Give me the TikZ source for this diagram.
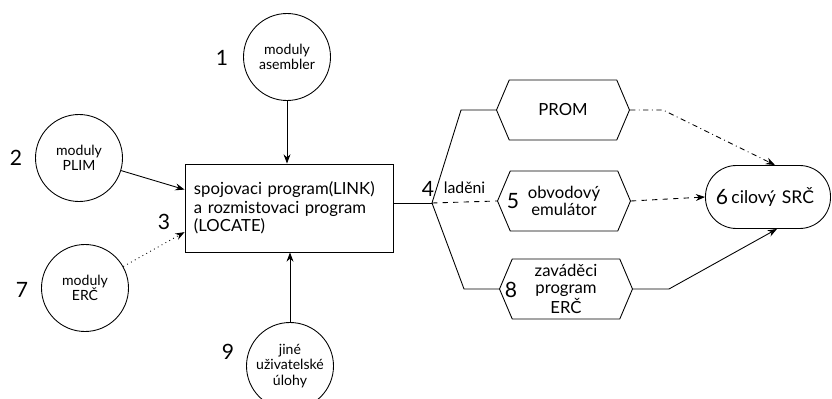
\documentclass[tikz,border=0pt]{standalone}
\usepackage{fontspec}
\setmainfont{Lato}
\usetikzlibrary{shapes.symbols,arrows.meta}

\tikzset{
  modcirc/.style={draw,circle,minimum size=17.4mm,inner sep=0pt,align=center,
    font=\fontsize{8}{8.8}\selectfont},
  linkbox/.style={draw,rectangle,minimum width=41.6mm,minimum height=17.6mm,
    text width=38mm,align=left,font=\fontsize{9.5}{10.5}\selectfont},
  hexbox/.style={draw,signal,signal to=west and east,signal pointer angle=134,
    minimum width=26.6mm,minimum height=12mm,inner sep=1pt,align=center,
    font=\fontsize{9.5}{9.8}\selectfont},
  goalbox/.style={draw,rectangle,rounded corners=6.2mm,minimum width=25mm,
    minimum height=12.6mm,text width=18.4mm,align=right,
    font=\fontsize{10}{10}\selectfont},
  numlab/.style={inner sep=0pt,font=\fontsize{12}{12}\selectfont}
}

\begin{document}
\begin{tikzpicture}[x=0.2mm,y=-0.2mm,>=Stealth,line width=0.5pt]
  \useasboundingbox (0,0) rectangle (832,399);

  \node[modcirc] (asm)  at (287,57)  {moduly\\asembler};
  \node[modcirc] (plim) at (79,158)  {moduly\\PLIM};
  \node[modcirc] (erc)  at (85,288)  {moduly\\ERČ};
  \node[modcirc] (uloh) at (290,366) {jiné\\uživatelské\\úlohy};

  \node[linkbox] (link) at (289,208)
    {spojovaci program(LINK)\\a rozmistovaci program\\(LOCATE)};

  \node[hexbox] (prom) at (563,110) {PROM};
  \node[hexbox] (emul) at (564,201) {obvodový\\emulátor};
  \node[hexbox] (zav)  at (566,289) {zaváděci\\program\\ERČ};
  \node[goalbox] (goal) at (768,197) {cilový SRČ};

  \node[numlab] (n1) at (222,58)  {1};
  \node[numlab] (n2) at (16,158)  {2};
  \node[numlab] (n3) at (164,222) {3};
  \node[numlab] (n4) at (428,189) {4};
  \node[numlab] (n5) at (513,201) {5};
  \node[numlab] (n6) at (722,197) {6};
  \node[numlab] (n7) at (22,290)  {7};
  \node[numlab] (n8) at (511,290) {8};
  \node[numlab] (n9) at (228,352) {9};

  \coordinate (br) at (432,203);

  \draw[->] (asm.south) -- (asm.south |- link.north);
  \draw[->] (plim) -- (link.170);
  \draw[->,dotted] (erc) -- (link.193);
  \draw[->] (uloh.north) -- (uloh.north |- link.south);

  \draw (link.east |- br) -- (br);
  \draw (br) -- ([xshift=-7mm]prom.west) -- (prom.west);
  \draw[dashed] (br) -- (emul.west)
    node[midway,above=1pt,font=\fontsize{9}{9}\selectfont] (lad) {laděni};
  \draw (br) -- ([xshift=-7mm]zav.west) -- (zav.west);

  \draw[->,dash dot] (prom.east) -- ([xshift=6.6mm]prom.east)
    -- ([xshift=1.4mm]goal.north);
  \draw[->,dashed] (emul.east) -- (goal.west);
  \draw[->] (zav.east) -- ([xshift=7.2mm]zav.east)
    -- ([xshift=1.8mm]goal.south);
\end{tikzpicture}
\end{document}
